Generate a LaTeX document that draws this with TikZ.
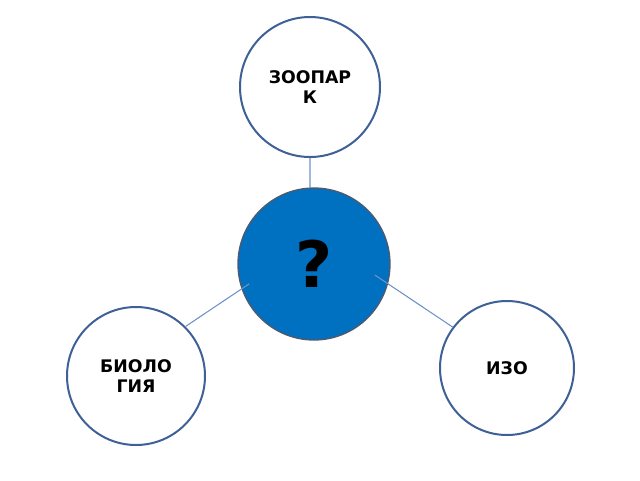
\documentclass[tikz,border=0pt]{standalone}
\usepackage{fontspec}
\setmainfont{DejaVu Sans}
\definecolor{ring color}{RGB}{62,96,150}
\definecolor{hub fill}{RGB}{0,112,192}
\definecolor{hub color}{RGB}{80,90,110}
\definecolor{link color}{RGB}{110,145,200}

\begin{document}
\begin{tikzpicture}[
	x=0.75pt, y=-0.75pt,
	font=\bfseries,
	topic/.style={circle, draw=ring color, line width=1.5pt, fill=white, align=center, inner sep=0pt},
	link/.style={draw=link color, line width=0.8pt}]

\useasboundingbox (0,0) rectangle (640,480);

% Hub
\node (quest) at (314,264) [circle, draw=hub color, line width=1pt, fill=hub fill, minimum size=152*0.75pt, inner sep=0pt] {\fontsize{48}{48}\selectfont ?};

% Topics
\node (zoo) at (310,87) [topic, minimum size=140*0.75pt, font=\bfseries\fontsize{13}{15}\selectfont] {ЗООПАР\\К};
\node (bio) at (136,376) [topic, minimum size=138*0.75pt, font=\bfseries\fontsize{13}{15}\selectfont] {БИОЛО\\ГИЯ};
\node (izo) at (507,368) [topic, minimum size=134*0.75pt, font=\bfseries\fontsize{13}{15}\selectfont] {ИЗО};

% Links
\draw [link] (zoo.-90) -- (quest.93);
\draw [link, shorten >=-7pt] (bio.45) -- (quest.199);
\draw [link, shorten >=-12pt] (izo.143) -- (quest.-15);

\end{tikzpicture}
\end{document}
